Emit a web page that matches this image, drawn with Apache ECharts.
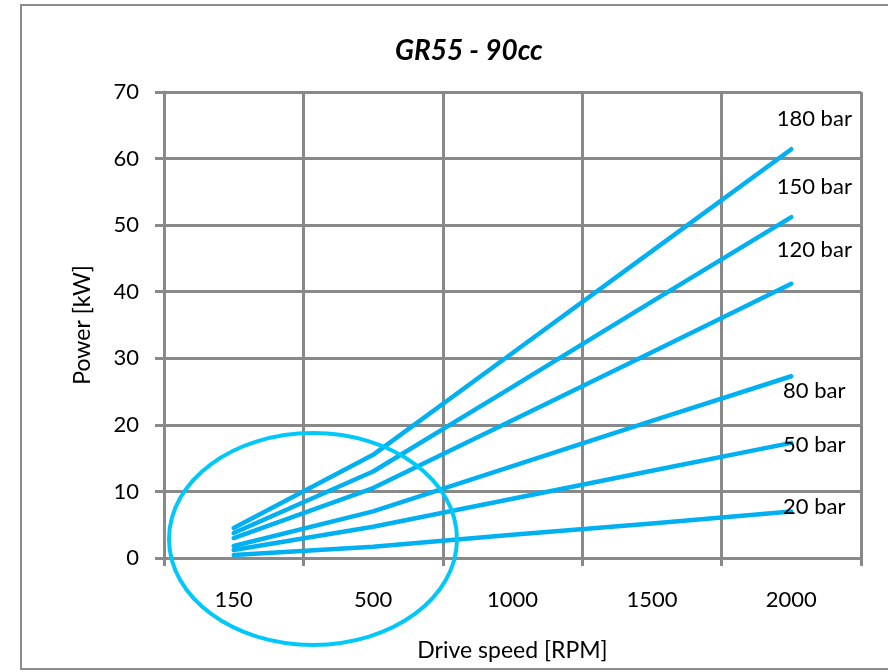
<!DOCTYPE html>
<html>
<head>
<meta charset="utf-8">
<script src="https://cdn.jsdelivr.net/npm/echarts@6/dist/echarts.min.js"></script>
<style>
  html, body { margin: 0; padding: 0; background: #fff; }
  #chart { width: 888px; height: 672px; }
</style>
</head>
<body>
<div id="chart"></div>
<script>
// 横轴分类 (转速)
const speeds = ['150', '500', '1000', '1500', '2000']
// 各压力下的功率 kW
const seriesNames = ['180 bar', '150 bar', '120 bar', '80 bar', '50 bar', '20 bar']
const bar180 = [4.5, 15.5, 30.8, 46.1, 61.4]
const bar150 = [3.75, 13.0, 25.7, 38.5, 51.2]
const bar120 = [3.0, 10.5, 20.7, 30.9, 41.2]
const bar80 = [1.8, 7.0, 13.8, 20.6, 27.3]
const bar50 = [1.2, 4.7, 8.9, 13.1, 17.3]
const bar20 = [0.45, 1.7, 3.5, 5.2, 7.0]
const yTicks = [0, 10, 20, 30, 40, 50, 60, 70]

const allValues = [bar180, bar150, bar120, bar80, bar50, bar20]
// 末端标签偏移
const labelOffsets = [[23, -30], [23, -30], [23, -34], [23, 15], [23, 2], [23, -4]]

const gridColor = '#898989'
const lineColor = '#00b0f0'
const font = 'Lato, "Noto Sans", sans-serif'

const chart = echarts.init(document.getElementById('chart'))

const series = allValues.map((vals, i) => {
  const data = vals.map((v, j) => {
    if (j !== vals.length - 1) return v
    return {
      value: v,
      label: {
        show: true,
        position: 'inside',
        align: 'center',
        verticalAlign: 'middle',
        offset: labelOffsets[i],
        formatter: seriesNames[i],
        color: '#000',
        fontSize: 22,
        fontFamily: font
      }
    }
  })
  return {
    name: seriesNames[i],
    type: 'line',
    data: data,
    symbol: 'circle',
    symbolSize: 1,
    showSymbol: true,
    silent: true,
    label: { show: false },
    lineStyle: { color: lineColor, width: 4.5, cap: 'round', join: 'round' },
    itemStyle: { color: lineColor },
    z: 3
  }
})

const option = {
  animation: false,
  backgroundColor: '#fff',
  title: {
    text: 'GR55 - 90cc',
    left: 390,
    top: 32,
    textStyle: { fontSize: 28, fontWeight: 'bold', fontStyle: 'italic', color: '#000', fontFamily: font }
  },
  grid: { left: 164, right: 27, top: 92, bottom: 114, outerBoundsMode: 'none', containLabel: false },
  xAxis: {
    type: 'category',
    data: speeds,
    boundaryGap: true,
    name: 'Drive speed [RPM]',
    nameLocation: 'middle',
    nameGap: 81,
    nameTextStyle: { fontSize: 23, color: '#000', fontFamily: font },
    axisLine: { lineStyle: { color: gridColor, width: 3 } },
    axisTick: { show: true, length: 8, lineStyle: { color: gridColor, width: 3 } },
    axisLabel: { fontSize: 22, color: '#000', margin: 31, fontFamily: font },
    splitLine: { show: true, lineStyle: { color: gridColor, width: 3 } }
  },
  yAxis: {
    type: 'value',
    min: yTicks[0],
    max: yTicks[yTicks.length - 1],
    interval: 10,
    name: 'Power [kW]',
    nameLocation: 'middle',
    nameGap: 70,
    nameRotate: 90,
    nameTextStyle: { fontSize: 23, color: '#000', fontFamily: font },
    axisLine: { show: true, lineStyle: { color: gridColor, width: 3 } },
    axisTick: { show: true, length: 9, lineStyle: { color: gridColor, width: 3 } },
    axisLabel: { fontSize: 22, color: '#000', margin: 25, fontFamily: font },
    splitLine: { show: true, lineStyle: { color: gridColor, width: 3 } }
  },
  series: series,
  graphic: [
    {
      type: 'rect',
      shape: { x: 21, y: 5, width: 900, height: 664 },
      style: { fill: null, stroke: '#8c8c8c', lineWidth: 2 },
      silent: true,
      z: 1
    },
    {
      type: 'ellipse',
      shape: { cx: 313, cy: 539, rx: 144, ry: 106 },
      style: { fill: null, stroke: '#00c8f8', lineWidth: 4 },
      silent: true,
      z: 10
    }
  ]
}

chart.setOption(option)
</script>
</body>
</html>
